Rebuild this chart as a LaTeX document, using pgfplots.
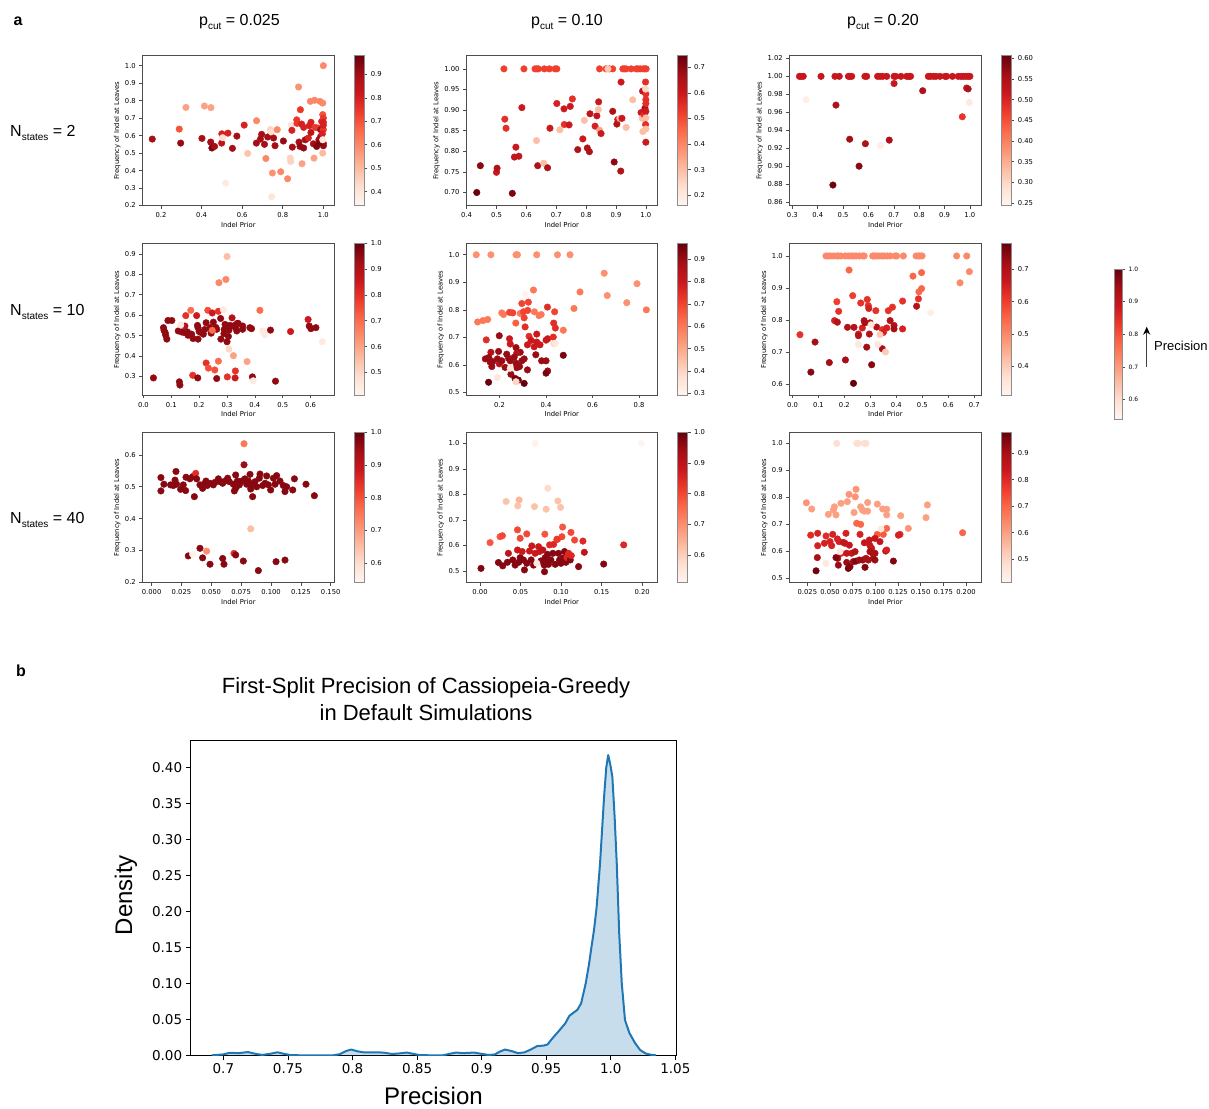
\documentclass[border=0pt]{standalone}
\usepackage{pgfplots}
\pgfplotsset{compat=1.18}
\usepackage{fontspec}
\setmainfont{Liberation Sans}
\newfontfamily\dejavu{DejaVu Sans}
\usetikzlibrary{arrows.meta}
\definecolor{cz}{RGB}{31,119,180}
\newcommand{\tickf}{\dejavu\fontsize{6.8}{8}\selectfont}
\newcommand{\sub}[1]{\raisebox{-4pt}{\fontsize{10}{12}\selectfont #1}}
\pgfplotsset{
  colormap={Reds}{rgb255=(255,245,240) rgb255=(254,224,210) rgb255=(252,187,161) rgb255=(252,146,114) rgb255=(251,106,74) rgb255=(239,59,44) rgb255=(203,24,29) rgb255=(165,15,21) rgb255=(103,0,13)},
  sp/.style={
    anchor=south west, scale only axis, width=192pt,
    axis line style={draw=black!70, line width=0.6pt},
    tick style={draw=black!70, line width=0.6pt},
    tick align=outside, major tick length=3pt,
    xtick pos=left, ytick pos=left,
    ticklabel style={font=\tickf},
    xlabel={Indel Prior}, ylabel={Frequency of Indel at Leaves},
    label style={font=\tickf},
    xlabel style={inner sep=1pt},
    ylabel style={inner sep=1pt},
    colormap name=Reds,
    colorbar,
    colorbar style={at={(parent axis.north east)}, anchor=north west, xshift=11.5pt,
      width=10pt, scale only axis,
      axis line style={draw=black!45, line width=0.6pt},
      tick style={draw=black!70, line width=0.6pt},
      tick align=outside, major tick length=3pt,
      ytick pos=right, yticklabel pos=right,
      yticklabel style={font=\tickf}},
  },
  pts/.style={scatter, only marks, mark=*, mark size=3.3pt, point meta=explicit,
    scatter/use mapped color={draw=mapped color, fill=mapped color}},
}
\begin{document}
\begin{tikzpicture}
\path[use as bounding box] (0,0) rectangle (1209pt,1108pt);
% ---------- titles ----------
\node[font=\bfseries\fontsize{16}{19}\selectfont, anchor=base] at (18pt,1082pt) {a};
\node[font=\bfseries\fontsize{16}{19}\selectfont, anchor=base] at (21pt,431pt) {b};
\node[font=\fontsize{16}{19}\selectfont, anchor=base] at (239.5pt,1082pt) {p\sub{cut} = 0.025};
\node[font=\fontsize{16}{19}\selectfont, anchor=base] at (567pt,1082pt) {p\sub{cut} = 0.10};
\node[font=\fontsize{16}{19}\selectfont, anchor=base] at (883pt,1082pt) {p\sub{cut} = 0.20};
\node[font=\fontsize{16}{19}\selectfont, anchor=base west, inner sep=0pt] at (10pt,971pt) {N\sub{states} = 2};
\node[font=\fontsize{16}{19}\selectfont, anchor=base west, inner sep=0pt] at (10pt,792pt) {N\sub{states} = 10};
\node[font=\fontsize{16}{19}\selectfont, anchor=base west, inner sep=0pt] at (10pt,584pt) {N\sub{states} = 40};
\node[font=\fontsize{22}{26}\selectfont, anchor=base] at (426pt,414pt) {First-Split Precision of Cassiopeia-Greedy};
\node[font=\fontsize{22}{26}\selectfont, anchor=base] at (426pt,387pt) {in Default Simulations};
\draw[black!75, line width=1pt, -{Stealth[length=8pt,width=7pt,black]}] (1146.7pt,741.3pt) -- (1146.7pt,781.3pt);
\node[font=\fontsize{13}{15}\selectfont, anchor=west, inner sep=0pt] at (1154pt,762pt) {Precision};

% ---------- (1,1) ----------
\begin{axis}[sp, at={(142.3pt,902.3pt)}, height=150pt,
  xmin=0.108, xmax=1.054, ymin=0.199, ymax=1.057,
  xtick={0.2,0.4,0.6,0.8,1.0}, xticklabels={0.2,0.4,0.6,0.8,1.0},
  ytick={0.2,0.3,0.4,0.5,0.6,0.7,0.8,0.9,1.0}, yticklabels={0.2,0.3,0.4,0.5,0.6,0.7,0.8,0.9,1.0},
  point meta min=0.34, point meta max=0.98,
  colorbar style={ytick={0.4,0.5,0.6,0.7,0.8,0.9}, yticklabels={0.4,0.5,0.6,0.7,0.8,0.9}}]
\addplot[pts] table[x=x,y=y,meta=c,row sep=\\]{
x y c\\
0.157 0.580 0.90\\ 0.290 0.637 0.70\\ 0.297 0.557 0.92\\ 0.323 0.761 0.55\\
0.402 0.584 0.90\\ 0.414 0.769 0.55\\ 0.446 0.760 0.55\\ 0.445 0.563 0.90\\
0.451 0.529 0.95\\ 0.464 0.538 0.90\\ 0.499 0.557 0.85\\ 0.500 0.610 0.80\\
0.504 0.588 0.42\\ 0.530 0.614 0.80\\ 0.552 0.527 0.90\\ 0.519 0.328 0.38\\
0.574 0.597 0.90\\ 0.610 0.660 0.80\\ 0.627 0.498 0.48\\ 0.671 0.685 0.60\\
0.670 0.557 0.90\\ 0.696 0.607 0.90\\ 0.690 0.580 0.90\\ 0.710 0.550 0.90\\
0.717 0.469 0.60\\ 0.726 0.592 0.90\\ 0.739 0.634 0.45\\ 0.745 0.620 0.42\\
0.749 0.386 0.58\\ 0.745 0.250 0.40\\ 0.762 0.542 0.90\\ 0.755 0.586 0.90\\
0.773 0.634 0.60\\ 0.790 0.393 0.60\\ 0.803 0.569 0.92\\ 0.824 0.353 0.60\\
0.837 0.471 0.45\\ 0.839 0.452 0.45\\ 0.842 0.660 0.40\\ 0.845 0.630 0.80\\
0.847 0.534 0.90\\ 0.869 0.690 0.75\\ 0.870 0.670 0.75\\ 0.878 0.878 0.58\\
0.880 0.563 0.90\\ 0.887 0.748 0.75\\ 0.885 0.538 0.92\\ 0.893 0.666 0.80\\
0.895 0.439 0.55\\ 0.903 0.647 0.80\\ 0.903 0.529 0.92\\ 0.911 0.576 0.90\\
0.926 0.586 0.80\\ 0.931 0.656 0.80\\ 0.936 0.796 0.60\\ 0.939 0.676 0.80\\
0.939 0.618 0.85\\ 0.951 0.553 0.90\\ 0.954 0.471 0.55\\ 0.957 0.802 0.60\\
0.960 0.647 0.75\\ 0.967 0.538 0.95\\ 0.975 0.643 0.75\\ 0.978 0.576 0.90\\
0.983 0.796 0.60\\ 0.987 0.634 0.90\\ 0.992 0.681 0.80\\ 0.987 0.595 0.90\\
0.997 0.786 0.60\\ 1.000 1.000 0.60\\ 0.997 0.500 0.50\\ 0.997 0.720 0.70\\
1.000 0.700 0.75\\ 1.000 0.676 0.80\\ 1.000 0.634 0.75\\ 1.000 0.555 0.90\\
1.000 0.542 0.92\\ 0.983 0.559 0.95\\ 1.000 0.660 0.80\\ 0.995 0.610 0.80\\
0.997 0.576 0.38\\
};
\end{axis}

% ---------- (1,2) ----------
\begin{axis}[sp, at={(466pt,902.3pt)}, width=191.5pt, height=150pt,
  xmin=0.398, xmax=1.039, ymin=0.668, ymax=1.032,
  xtick={0.4,0.5,0.6,0.7,0.8,0.9,1.0}, xticklabels={0.4,0.5,0.6,0.7,0.8,0.9,1.0},
  ytick={0.70,0.75,0.80,0.85,0.90,0.95,1.00}, yticklabels={0.70,0.75,0.80,0.85,0.90,0.95,1.00},
  point meta min=0.16, point meta max=0.745,
  colorbar style={ytick={0.2,0.3,0.4,0.5,0.6,0.7}, yticklabels={0.2,0.3,0.4,0.5,0.6,0.7}}]
\addplot[pts] table[x=x,y=y,meta=c,row sep=\\]{
x y c\\
0.525 1.0 0.52\\ 0.592 1.0 0.52\\ 0.629 1.0 0.52\\ 0.635 1.0 0.52\\ 0.640 1.0 0.52\\
0.660 1.0 0.52\\ 0.677 1.0 0.52\\ 0.696 1.0 0.52\\ 0.702 1.0 0.52\\ 0.845 1.0 0.52\\
0.867 1.0 0.52\\ 0.878 1.0 0.52\\ 0.889 1.0 0.52\\ 0.923 1.0 0.52\\
0.928 1.0 0.52\\ 0.934 1.0 0.52\\ 0.951 1.0 0.52\\ 0.968 1.0 0.52\\ 0.973 1.0 0.52\\
0.981 1.0 0.52\\ 0.990 1.0 0.52\\ 0.996 1.0 0.52\\ 1.001 1.0 0.52\\ 0.873 1.0 0.28\\
0.434 0.700 0.74\\ 0.446 0.765 0.70\\ 0.500 0.749 0.60\\ 0.502 0.759 0.65\\
0.528 0.878 0.55\\ 0.532 0.856 0.55\\ 0.553 0.698 0.72\\ 0.560 0.786 0.62\\
0.565 0.810 0.60\\ 0.575 0.788 0.62\\ 0.585 0.906 0.60\\ 0.634 0.826 0.30\\
0.638 0.765 0.65\\ 0.658 0.771 0.30\\ 0.671 0.760 0.65\\ 0.679 0.856 0.60\\
0.712 0.852 0.30\\ 0.702 0.916 0.58\\ 0.726 0.903 0.60\\ 0.727 0.865 0.55\\
0.743 0.864 0.60\\ 0.747 0.909 0.60\\ 0.754 0.927 0.55\\ 0.772 0.804 0.65\\
0.789 0.830 0.60\\ 0.794 0.875 0.30\\ 0.804 0.808 0.65\\ 0.811 0.799 0.65\\
0.813 0.891 0.62\\ 0.830 0.861 0.58\\ 0.836 0.886 0.62\\ 0.841 0.901 0.30\\
0.842 0.920 0.60\\ 0.845 0.851 0.35\\ 0.850 0.843 0.60\\ 0.889 0.897 0.65\\
0.894 0.774 0.70\\ 0.903 0.866 0.65\\ 0.906 0.877 0.60\\ 0.913 0.880 0.30\\
0.916 0.752 0.65\\ 0.920 0.880 0.60\\ 0.917 0.968 0.60\\ 0.934 0.858 0.30\\
0.956 0.925 0.30\\ 0.989 0.946 0.62\\ 0.984 0.894 0.60\\ 0.988 0.880 0.30\\
0.990 0.848 0.30\\ 0.994 0.889 0.55\\ 0.997 0.905 0.65\\ 0.999 0.968 0.55\\
1.000 0.939 0.55\\ 1.000 0.925 0.55\\ 1.000 0.916 0.55\\
1.000 0.897 0.60\\ 1.000 0.881 0.30\\ 0.999 0.865 0.55\\ 1.000 0.854 0.30\\
1.000 0.822 0.60\\ 0.999 0.951 0.25\\
};
\end{axis}

% ---------- (1,3) ----------
\begin{axis}[sp, at={(789.3pt,902.3pt)}, height=150pt,
  xmin=0.288, xmax=1.045, ymin=0.856, ymax=1.023,
  xtick={0.3,0.4,0.5,0.6,0.7,0.8,0.9,1.0}, xticklabels={0.3,0.4,0.5,0.6,0.7,0.8,0.9,1.0},
  ytick={0.86,0.88,0.90,0.92,0.94,0.96,0.98,1.00,1.02}, yticklabels={0.86,0.88,0.90,0.92,0.94,0.96,0.98,1.00,1.02},
  point meta min=0.244, point meta max=0.606,
  colorbar style={ytick={0.25,0.30,0.35,0.40,0.45,0.50,0.55,0.60}, yticklabels={0.25,0.30,0.35,0.40,0.45,0.50,0.55,0.60}}]
\addplot[pts] table[x=x,y=y,meta=c,row sep=\\]{
x y c\\
0.328 1.0 0.52\\ 0.334 1.0 0.52\\ 0.343 1.0 0.52\\ 0.413 1.0 0.52\\ 0.468 1.0 0.52\\
0.485 1.0 0.52\\ 0.521 1.0 0.52\\ 0.527 1.0 0.52\\ 0.534 1.0 0.52\\ 0.586 1.0 0.52\\
0.593 1.0 0.52\\ 0.636 1.0 0.52\\ 0.646 1.0 0.52\\ 0.656 1.0 0.52\\ 0.672 1.0 0.52\\
0.701 1.0 0.52\\ 0.707 1.0 0.52\\ 0.728 1.0 0.52\\ 0.751 1.0 0.52\\ 0.760 1.0 0.52\\
0.766 1.0 0.52\\ 0.836 1.0 0.52\\ 0.845 1.0 0.52\\ 0.856 1.0 0.52\\ 0.866 1.0 0.52\\
0.882 1.0 0.52\\ 0.902 1.0 0.52\\ 0.908 1.0 0.52\\ 0.931 1.0 0.52\\ 0.954 1.0 0.52\\
0.965 1.0 0.52\\ 0.974 1.0 0.52\\ 0.984 1.0 0.52\\ 0.993 1.0 0.52\\ 1.000 1.0 0.52\\
0.354 0.974 0.26\\ 0.472 0.968 0.55\\ 0.460 0.879 0.60\\ 0.526 0.930 0.56\\
0.563 0.900 0.58\\ 0.588 0.925 0.55\\ 0.647 0.923 0.26\\ 0.682 0.929 0.55\\
0.701 0.992 0.52\\ 0.814 0.984 0.55\\ 0.970 0.955 0.48\\ 0.987 0.987 0.52\\
0.993 0.986 0.55\\ 0.998 0.971 0.27\\
};
\end{axis}

% ---------- (2,1) ----------
\begin{axis}[sp, at={(142.3pt,712.5pt)}, height=152pt,
  xmin=-0.004, xmax=0.685, ymin=0.207, ymax=0.951,
  xtick={0,0.1,0.2,0.3,0.4,0.5,0.6}, xticklabels={0.0,0.1,0.2,0.3,0.4,0.5,0.6},
  ytick={0.3,0.4,0.5,0.6,0.7,0.8,0.9}, yticklabels={0.3,0.4,0.5,0.6,0.7,0.8,0.9},
  point meta min=0.41, point meta max=1.0,
  colorbar style={ytick={0.5,0.6,0.7,0.8,0.9,1.0}, yticklabels={0.5,0.6,0.7,0.8,0.9,1.0}}]
\addplot[pts] table[x=x,y=y,meta=c,row sep=\\]{
x y c\\
0.036 0.293 0.95\\ 0.072 0.539 0.95\\ 0.074 0.526 0.95\\ 0.078 0.515 0.95\\
0.080 0.502 0.95\\ 0.084 0.483 0.95\\ 0.088 0.574 0.95\\ 0.102 0.574 0.95\\
0.129 0.274 0.95\\ 0.131 0.258 0.95\\ 0.125 0.523 0.95\\ 0.137 0.518 0.95\\
0.146 0.515 0.95\\ 0.152 0.598 0.80\\ 0.158 0.518 0.95\\ 0.160 0.502 0.95\\
0.149 0.547 0.90\\ 0.170 0.624 0.70\\ 0.173 0.507 0.95\\ 0.178 0.486 0.95\\
0.177 0.306 0.80\\ 0.191 0.598 0.85\\ 0.194 0.550 0.95\\ 0.196 0.539 0.95\\
0.196 0.483 0.95\\ 0.195 0.293 0.95\\ 0.207 0.515 0.95\\ 0.215 0.507 0.95\\
0.225 0.563 0.95\\ 0.225 0.366 0.80\\ 0.231 0.624 0.75\\ 0.233 0.341 0.75\\
0.239 0.539 0.95\\ 0.243 0.512 0.95\\ 0.247 0.611 0.85\\ 0.251 0.566 0.95\\
0.256 0.332 0.75\\ 0.263 0.290 0.95\\ 0.263 0.531 0.95\\ 0.269 0.619 0.80\\
0.269 0.375 0.70\\ 0.271 0.759 0.65\\ 0.277 0.584 0.95\\ 0.278 0.483 0.95\\
0.287 0.627 0.45\\ 0.289 0.510 0.95\\ 0.293 0.555 0.95\\ 0.296 0.775 0.65\\
0.300 0.887 0.55\\ 0.300 0.470 0.95\\ 0.301 0.298 0.80\\ 0.305 0.496 0.95\\
0.307 0.434 0.50\\ 0.307 0.527 0.95\\ 0.313 0.547 0.95\\ 0.318 0.587 0.90\\
0.323 0.402 0.60\\ 0.327 0.550 0.95\\ 0.329 0.293 0.85\\ 0.330 0.327 0.80\\
0.335 0.523 0.95\\ 0.337 0.560 0.95\\ 0.356 0.531 0.95\\ 0.356 0.547 0.95\\
0.372 0.373 0.60\\ 0.382 0.539 0.95\\ 0.388 0.534 0.95\\ 0.391 0.298 0.95\\
0.394 0.279 0.45\\ 0.418 0.624 0.70\\ 0.428 0.523 0.45\\ 0.436 0.504 0.45\\
0.456 0.527 0.95\\ 0.474 0.277 0.95\\ 0.528 0.520 0.85\\ 0.591 0.579 0.85\\
0.595 0.547 0.95\\ 0.601 0.534 0.95\\ 0.619 0.539 0.95\\ 0.642 0.470 0.45\\
0.200 0.520 0.95\\ 0.220 0.530 0.95\\ 0.260 0.540 0.95\\ 0.290 0.530 0.95\\
0.310 0.550 0.95\\ 0.330 0.540 0.95\\ 0.340 0.560 0.95\\ 0.134 0.552 0.45\\
0.247 0.526 0.70\\
};
\end{axis}

% ---------- (2,2) ----------
\begin{axis}[sp, at={(466pt,712.5pt)}, width=191.5pt, height=152pt,
  xmin=0.056, xmax=0.879, ymin=0.489, ymax=1.041,
  xtick={0.2,0.4,0.6,0.8}, xticklabels={0.2,0.4,0.6,0.8},
  ytick={0.5,0.6,0.7,0.8,0.9,1.0}, yticklabels={0.5,0.6,0.7,0.8,0.9,1.0},
  point meta min=0.29, point meta max=0.97,
  colorbar style={ytick={0.3,0.4,0.5,0.6,0.7,0.8,0.9}, yticklabels={0.3,0.4,0.5,0.6,0.7,0.8,0.9}}]
\addplot[pts] table[x=x,y=y,meta=c,row sep=\\]{
x y c\\
0.100 1.0 0.55\\ 0.163 1.0 0.55\\ 0.271 1.0 0.55\\ 0.277 1.0 0.55\\ 0.360 1.0 0.55\\
0.449 1.0 0.55\\ 0.503 1.0 0.55\\
0.650 0.933 0.55\\ 0.791 0.895 0.55\\ 0.663 0.852 0.55\\ 0.747 0.826 0.55\\
0.831 0.800 0.60\\ 0.546 0.865 0.60\\ 0.346 0.872 0.60\\ 0.311 0.855 0.30\\
0.296 0.823 0.70\\ 0.324 0.828 0.70\\ 0.520 0.805 0.60\\ 0.406 0.810 0.75\\
0.210 0.789 0.60\\ 0.217 0.783 0.60\\ 0.243 0.791 0.70\\ 0.257 0.789 0.70\\
0.289 0.787 0.60\\ 0.303 0.793 0.70\\ 0.321 0.798 0.70\\ 0.350 0.793 0.60\\
0.370 0.779 0.60\\ 0.379 0.783 0.60\\ 0.437 0.793 0.70\\ 0.106 0.756 0.60\\
0.129 0.761 0.60\\ 0.149 0.765 0.60\\ 0.270 0.752 0.65\\ 0.310 0.738 0.75\\
0.306 0.771 0.70\\ 0.433 0.752 0.75\\ 0.440 0.734 0.75\\ 0.474 0.726 0.60\\
0.143 0.691 0.75\\ 0.199 0.706 0.90\\ 0.243 0.695 0.80\\ 0.246 0.676 0.80\\
0.327 0.704 0.75\\ 0.336 0.689 0.80\\ 0.320 0.673 0.80\\ 0.360 0.712 0.80\\
0.360 0.683 0.80\\ 0.374 0.673 0.80\\ 0.400 0.690 0.80\\ 0.407 0.695 0.80\\
0.431 0.701 0.75\\ 0.349 0.666 0.80\\ 0.356 0.637 0.90\\ 0.474 0.635 0.95\\
0.271 0.663 0.90\\ 0.289 0.646 0.90\\ 0.274 0.643 0.85\\ 0.139 0.622 0.90\\
0.163 0.646 0.85\\ 0.154 0.627 0.90\\ 0.171 0.612 0.90\\ 0.196 0.649 0.90\\
0.191 0.622 0.90\\ 0.199 0.604 0.85\\ 0.210 0.615 0.90\\ 0.231 0.639 0.90\\
0.239 0.624 0.90\\ 0.246 0.615 0.90\\ 0.263 0.628 0.90\\ 0.271 0.606 0.90\\
0.274 0.590 0.90\\ 0.286 0.594 0.90\\ 0.296 0.615 0.90\\ 0.306 0.622 0.90\\
0.320 0.582 0.90\\ 0.381 0.615 0.90\\ 0.400 0.615 0.90\\ 0.407 0.578 0.90\\
0.400 0.570 0.95\\ 0.160 0.610 0.90\\ 0.167 0.594 0.90\\ 0.153 0.537 0.97\\
0.249 0.566 0.90\\ 0.267 0.551 0.95\\ 0.281 0.545 0.95\\ 0.306 0.533 0.97\\
0.224 0.591 0.90\\ 0.434 0.677 0.40\\ 0.439 0.679 0.35\\ 0.191 0.554 0.35\\
0.246 0.588 0.35\\ 0.271 0.539 0.40\\
};
\end{axis}

% ---------- (2,3) ----------
\begin{axis}[sp, at={(789.3pt,712.5pt)}, height=152pt,
  xmin=-0.012, xmax=0.727, ymin=0.564, ymax=1.039,
  xtick={0,0.1,0.2,0.3,0.4,0.5,0.6,0.7}, xticklabels={0.0,0.1,0.2,0.3,0.4,0.5,0.6,0.7},
  ytick={0.6,0.7,0.8,0.9,1.0}, yticklabels={0.6,0.7,0.8,0.9,1.0},
  point meta min=0.31, point meta max=0.78,
  colorbar style={ytick={0.4,0.5,0.6,0.7}, yticklabels={0.4,0.5,0.6,0.7}}]
\addplot[pts] table[x=x,y=y,meta=c,row sep=\\]{
x y c\\
0.129 1.0 0.50\\ 0.138 1.0 0.50\\ 0.147 1.0 0.50\\ 0.158 1.0 0.50\\ 0.171 1.0 0.50\\
0.178 1.0 0.50\\ 0.187 1.0 0.50\\ 0.203 1.0 0.50\\ 0.215 1.0 0.50\\ 0.226 1.0 0.50\\
0.235 1.0 0.50\\ 0.245 1.0 0.50\\ 0.258 1.0 0.50\\ 0.271 1.0 0.50\\ 0.276 1.0 0.50\\
0.309 1.0 0.50\\ 0.315 1.0 0.50\\ 0.324 1.0 0.50\\ 0.335 1.0 0.50\\ 0.344 1.0 0.50\\
0.353 1.0 0.50\\ 0.365 1.0 0.50\\ 0.376 1.0 0.50\\ 0.395 1.0 0.50\\ 0.401 1.0 0.50\\
0.427 1.0 0.50\\ 0.476 1.0 0.50\\ 0.485 1.0 0.50\\ 0.491 1.0 0.50\\ 0.499 1.0 0.50\\
0.632 1.0 0.50\\ 0.671 1.0 0.50\\
0.029 0.754 0.62\\ 0.071 0.637 0.75\\ 0.087 0.731 0.72\\ 0.142 0.667 0.72\\
0.204 0.675 0.72\\ 0.235 0.602 0.78\\ 0.218 0.956 0.55\\ 0.232 0.876 0.60\\
0.171 0.857 0.60\\ 0.178 0.827 0.62\\ 0.162 0.798 0.65\\ 0.173 0.793 0.70\\
0.212 0.777 0.70\\ 0.237 0.777 0.70\\ 0.254 0.756 0.65\\ 0.254 0.751 0.70\\
0.263 0.853 0.62\\ 0.269 0.775 0.65\\ 0.276 0.798 0.70\\ 0.279 0.791 0.72\\
0.286 0.715 0.72\\ 0.288 0.864 0.62\\ 0.292 0.845 0.62\\ 0.296 0.756 0.70\\
0.299 0.791 0.70\\ 0.294 0.836 0.65\\ 0.305 0.660 0.75\\ 0.321 0.829 0.62\\
0.324 0.778 0.70\\ 0.346 0.770 0.62\\ 0.346 0.710 0.72\\ 0.350 0.761 0.65\\
0.363 0.775 0.65\\ 0.369 0.829 0.62\\ 0.376 0.798 0.70\\ 0.385 0.840 0.62\\
0.391 0.783 0.70\\ 0.391 0.772 0.72\\ 0.424 0.859 0.62\\ 0.424 0.772 0.65\\
0.464 0.937 0.55\\ 0.478 0.843 0.70\\ 0.485 0.866 0.62\\ 0.487 0.888 0.55\\
0.497 0.898 0.55\\ 0.497 0.948 0.55\\ 0.645 0.916 0.50\\ 0.681 0.951 0.50\\
0.254 0.723 0.35\\ 0.303 0.785 0.35\\ 0.328 0.723 0.35\\ 0.337 0.754 0.40\\
0.358 0.700 0.40\\ 0.532 0.823 0.33\\
};
\end{axis}

% ---------- (3,1) ----------
\begin{axis}[sp, at={(142.3pt,525.3pt)}, height=150.4pt,
  xmin=-0.0078, xmax=0.153, ymin=0.199, ymax=0.671,
  xtick={0,0.025,0.05,0.075,0.1,0.125,0.15}, xticklabels={0.000,0.025,0.050,0.075,0.100,0.125,0.150},
  ytick={0.2,0.3,0.4,0.5,0.6}, yticklabels={0.2,0.3,0.4,0.5,0.6},
  point meta min=0.54, point meta max=1.0,
  colorbar style={ytick={0.6,0.7,0.8,0.9,1.0}, yticklabels={0.6,0.7,0.8,0.9,1.0}}]
\addplot[pts] table[x=x,y=y,meta=c,row sep=\\]{
x y c\\
0.0078 0.529 0.97\\ 0.0078 0.487 0.97\\ 0.0103 0.508 0.97\\ 0.0159 0.506 0.97\\
0.0182 0.504 0.97\\ 0.0196 0.521 0.97\\ 0.0204 0.548 0.97\\ 0.0209 0.508 0.97\\
0.0243 0.492 0.97\\ 0.0265 0.506 0.97\\ 0.0285 0.488 0.97\\ 0.0288 0.530 0.97\\
0.0321 0.525 0.97\\ 0.0344 0.532 0.97\\ 0.0358 0.469 0.97\\ 0.0369 0.542 0.85\\
0.0377 0.525 0.97\\ 0.0405 0.506 0.97\\ 0.0427 0.495 0.97\\ 0.0439 0.508 0.97\\
0.0455 0.518 0.97\\ 0.0466 0.504 0.97\\ 0.0489 0.511 0.97\\ 0.0517 0.506 0.97\\
0.0531 0.514 0.97\\ 0.0559 0.525 0.97\\ 0.0573 0.516 0.97\\ 0.0595 0.511 0.97\\
0.0615 0.518 0.97\\ 0.0637 0.527 0.97\\ 0.0651 0.516 0.97\\ 0.0684 0.508 0.97\\
0.0693 0.487 0.97\\ 0.0704 0.537 0.97\\ 0.0707 0.497 0.97\\ 0.0718 0.518 0.97\\
0.0735 0.506 0.97\\ 0.0754 0.518 0.97\\ 0.0774 0.569 0.95\\ 0.0782 0.525 0.97\\
0.0796 0.508 0.97\\ 0.0810 0.518 0.97\\ 0.0824 0.539 0.97\\ 0.0830 0.493 0.97\\
0.0838 0.508 0.97\\ 0.0846 0.469 0.97\\ 0.0866 0.516 0.97\\ 0.0880 0.500 0.97\\
0.0902 0.527 0.97\\ 0.0908 0.540 0.97\\ 0.0930 0.504 0.97\\ 0.0950 0.511 0.97\\
0.0964 0.534 0.97\\ 0.0978 0.506 0.97\\ 0.0997 0.490 0.97\\ 0.1020 0.527 0.97\\
0.1034 0.508 0.97\\ 0.1047 0.535 0.97\\ 0.1075 0.518 0.97\\ 0.1103 0.504 0.97\\
0.1117 0.485 0.97\\ 0.1131 0.500 0.97\\ 0.1182 0.490 0.97\\ 0.1196 0.525 0.97\\
0.1293 0.508 0.97\\ 0.1363 0.472 0.97\\
0.0307 0.283 0.97\\ 0.0344 0.288 0.55\\ 0.0405 0.307 0.97\\ 0.0427 0.277 0.97\\
0.0461 0.298 0.72\\ 0.0489 0.257 0.97\\ 0.0595 0.275 0.97\\ 0.0606 0.257 0.97\\
0.0690 0.291 0.85\\ 0.0704 0.286 0.97\\ 0.0768 0.267 0.97\\ 0.0894 0.237 0.97\\
0.1042 0.265 0.97\\ 0.1117 0.270 0.97\\ 0.0830 0.368 0.65\\ 0.0774 0.635 0.75\\
};
\end{axis}

% ---------- (3,2) ----------
\begin{axis}[sp, at={(466pt,525.3pt)}, width=191.5pt, height=150.4pt,
  xmin=-0.0173, xmax=0.219, ymin=0.454, ymax=1.043,
  xtick={0,0.05,0.1,0.15,0.2}, xticklabels={0.00,0.05,0.10,0.15,0.20},
  ytick={0.5,0.6,0.7,0.8,0.9,1.0}, yticklabels={0.5,0.6,0.7,0.8,0.9,1.0},
  point meta min=0.51, point meta max=1.0,
  colorbar style={ytick={0.6,0.7,0.8,0.9,1.0}, yticklabels={0.6,0.7,0.8,0.9,1.0}}]
\addplot[pts] table[x=x,y=y,meta=c,row sep=\\]{
x y c\\
0.0680 1.000 0.52\\ 0.1990 1.000 0.51\\ 0.0837 0.824 0.58\\ 0.0322 0.772 0.62\\
0.0482 0.778 0.64\\ 0.0466 0.755 0.62\\ 0.0672 0.752 0.62\\ 0.0816 0.742 0.62\\
0.0961 0.774 0.62\\ 0.0994 0.749 0.62\\
0.0124 0.611 0.78\\ 0.0247 0.634 0.78\\ 0.0276 0.638 0.80\\ 0.0462 0.661 0.80\\
0.0495 0.628 0.80\\ 0.0577 0.645 0.80\\ 0.0800 0.644 0.78\\ 0.1019 0.672 0.78\\
0.1010 0.634 0.80\\ 0.1122 0.651 0.80\\ 0.1167 0.621 0.80\\ 0.1270 0.617 0.85\\
0.1773 0.602 0.85\\ 0.0957 0.624 0.80\\
0.0012 0.510 0.98\\ 0.0227 0.533 0.97\\ 0.0280 0.520 0.97\\ 0.0350 0.569 0.90\\
0.0338 0.534 0.97\\ 0.0404 0.543 0.97\\ 0.0433 0.523 0.97\\ 0.0462 0.582 0.88\\
0.0478 0.534 0.97\\ 0.0495 0.552 0.97\\ 0.0520 0.576 0.88\\ 0.0536 0.543 0.97\\
0.0548 0.504 0.97\\ 0.0577 0.530 0.97\\ 0.0610 0.578 0.88\\ 0.0631 0.543 0.97\\
0.0639 0.598 0.88\\ 0.0660 0.523 0.97\\ 0.0680 0.569 0.88\\ 0.0722 0.595 0.88\\
0.0734 0.576 0.88\\ 0.0751 0.539 0.97\\ 0.0775 0.582 0.90\\ 0.0792 0.523 0.97\\
0.0796 0.497 0.97\\ 0.0804 0.552 0.97\\ 0.0816 0.534 0.97\\ 0.0833 0.565 0.97\\
0.0845 0.526 0.97\\ 0.0858 0.602 0.85\\ 0.0874 0.543 0.97\\ 0.0899 0.569 0.97\\
0.0907 0.604 0.85\\ 0.0928 0.526 0.97\\ 0.0948 0.624 0.82\\ 0.0969 0.569 0.97\\
0.0981 0.543 0.97\\ 0.0998 0.530 0.97\\ 0.1023 0.550 0.97\\ 0.1043 0.576 0.97\\
0.1060 0.534 0.97\\ 0.1072 0.552 0.85\\ 0.1093 0.569 0.85\\ 0.1113 0.543 0.97\\
0.1126 0.560 0.85\\ 0.1216 0.517 0.97\\ 0.1287 0.573 0.90\\ 0.1526 0.527 0.97\\
0.0701 0.530 0.55\\
};
\end{axis}

% ---------- (3,3) ----------
\begin{axis}[sp, at={(789.3pt,525.3pt)}, height=150.4pt,
  xmin=0.0051, xmax=0.2169, ymin=0.484, ymax=1.041,
  xtick={0.025,0.05,0.075,0.1,0.125,0.15,0.175,0.2}, xticklabels={0.025,0.050,0.075,0.100,0.125,0.150,0.175,0.200},
  ytick={0.5,0.6,0.7,0.8,0.9,1.0}, yticklabels={0.5,0.6,0.7,0.8,0.9,1.0},
  point meta min=0.41, point meta max=0.98,
  colorbar style={ytick={0.5,0.6,0.7,0.8,0.9}, yticklabels={0.5,0.6,0.7,0.8,0.9}}]
\addplot[pts] table[x=x,y=y,meta=c,row sep=\\]{
x y c\\
0.0574 1.0 0.48\\ 0.0794 1.0 0.48\\ 0.0812 1.0 0.48\\ 0.0879 1.0 0.48\\ 0.0897 1.0 0.48\\
0.0787 0.830 0.62\\ 0.0710 0.811 0.62\\ 0.0779 0.802 0.62\\ 0.0239 0.780 0.62\\
0.0298 0.757 0.60\\ 0.0482 0.737 0.60\\ 0.0537 0.753 0.60\\ 0.0548 0.765 0.60\\
0.0566 0.735 0.60\\ 0.0621 0.778 0.60\\ 0.0691 0.784 0.60\\ 0.0765 0.744 0.60\\
0.0838 0.765 0.60\\ 0.0857 0.753 0.60\\ 0.0879 0.749 0.60\\ 0.0915 0.781 0.60\\
0.0915 0.749 0.60\\ 0.1022 0.775 0.60\\ 0.1081 0.757 0.60\\ 0.1125 0.735 0.60\\
0.1125 0.756 0.60\\ 0.1280 0.732 0.60\\ 0.1364 0.685 0.62\\ 0.1559 0.725 0.60\\
0.1574 0.772 0.60\\ 0.1963 0.669 0.70\\ 0.0794 0.704 0.70\\ 0.0838 0.700 0.70\\
0.1125 0.685 0.70\\ 0.1022 0.663 0.72\\ 0.1088 0.663 0.72\\
0.1272 0.663 0.80\\ 0.0287 0.660 0.80\\ 0.0364 0.667 0.82\\ 0.0456 0.657 0.80\\
0.0530 0.663 0.82\\ 0.0676 0.667 0.82\\ 0.0831 0.663 0.82\\ 0.0364 0.621 0.82\\
0.0438 0.630 0.82\\ 0.0500 0.636 0.82\\ 0.0518 0.621 0.82\\ 0.0581 0.646 0.82\\
0.0600 0.636 0.82\\ 0.0621 0.593 0.82\\ 0.0647 0.633 0.85\\ 0.0665 0.630 0.85\\
0.0684 0.593 0.85\\ 0.0713 0.623 0.85\\ 0.0739 0.593 0.85\\ 0.0879 0.632 0.85\\
0.0934 0.642 0.85\\ 0.0941 0.621 0.85\\ 0.0959 0.611 0.85\\ 0.0970 0.593 0.85\\
0.0996 0.648 0.85\\ 0.1051 0.636 0.85\\ 0.1114 0.601 0.85\\ 0.1125 0.605 0.82\\
0.1254 0.660 0.82\\ 0.0776 0.599 0.88\\
0.0360 0.577 0.90\\ 0.0585 0.574 0.90\\ 0.0346 0.528 0.97\\ 0.0566 0.577 0.95\\
0.0592 0.549 0.92\\ 0.0684 0.559 0.92\\ 0.0702 0.537 0.97\\ 0.0720 0.543 0.95\\
0.0757 0.562 0.92\\ 0.0787 0.564 0.95\\ 0.0824 0.568 0.92\\ 0.0860 0.568 0.92\\
0.0886 0.541 0.95\\ 0.0897 0.574 0.90\\ 0.0923 0.568 0.90\\ 0.0941 0.599 0.90\\
0.0978 0.574 0.90\\ 0.0996 0.593 0.90\\ 0.0996 0.568 0.92\\ 0.1199 0.564 0.95\\
0.1062 0.683 0.45\\ 0.0610 0.599 0.45\\ 0.0456 0.556 0.45\\
};
\end{axis}

% ---------- standalone colorbar ----------
\begin{axis}[anchor=south west, at={(1106pt,688.7pt)}, scale only axis, width=8pt, height=150.3pt,
  axis line style={draw=none}, xtick=\empty, ytick=\empty, xmin=0, xmax=1, ymin=0, ymax=1,
  colormap name=Reds, point meta min=0.54, point meta max=1.0,
  colorbar, colorbar style={at={(parent axis.south west)}, anchor=south west, width=8pt, scale only axis,
    axis line style={draw=black!45, line width=0.6pt}, tick style={draw=black!70, line width=0.6pt},
    tick align=outside, major tick length=2.5pt, ytick pos=right, yticklabel pos=right,
    yticklabel style={font=\dejavu\fontsize{6}{7}\selectfont},
    ytick={0.6,0.7,0.8,0.9,1.0}, yticklabels={0.6,0.7,0.8,0.9,1.0}}]
\addplot[draw=none, mark=none, point meta=explicit] coordinates {(0,0)[0.6] (1,1)[0.9]};
\end{axis}

% ---------- panel b ----------
\begin{axis}[anchor=south west, at={(190.7pt,52.7pt)}, scale only axis, width=485.3pt, height=315.3pt,
  xmin=0.6747, xmax=1.0505, ymin=0, ymax=0.438,
  xtick={0.7,0.75,0.8,0.85,0.9,0.95,1.0,1.05}, xticklabels={0.7,0.75,0.8,0.85,0.9,0.95,1.0,1.05},
  ytick={0,0.05,0.1,0.15,0.2,0.25,0.3,0.35,0.4}, yticklabels={0.00,0.05,0.10,0.15,0.20,0.25,0.30,0.35,0.40},
  tick align=outside, major tick length=5pt, xtick pos=left, ytick pos=left,
  axis line style={line width=0.8pt}, tick style={line width=0.8pt, black},
  ticklabel style={font=\dejavu\fontsize{13.5}{15}\selectfont},
  xlabel={Precision}, ylabel={Density},
  label style={font=\fontsize{24}{28}\selectfont},
  xlabel style={at={(axis description cs:0.5,-0.128)}, anchor=center, inner sep=0pt},
  ylabel style={at={(axis description cs:-0.1333,0.508)}, anchor=center}]
\addplot[draw=none, fill=cz, fill opacity=0.25] coordinates {
(0.691,0) (0.700,0.0012) (0.705,0.0035) (0.712,0.003) (0.719,0.0045) (0.725,0.002) (0.730,0.0005)
(0.736,0.002) (0.742,0.0042) (0.747,0.002) (0.752,0.0003) (0.760,0) (0.785,0) (0.790,0.0015)
(0.795,0.006) (0.799,0.008) (0.804,0.0055) (0.809,0.004) (0.816,0.0042) (0.824,0.0038) (0.830,0.002)
(0.834,0.0022) (0.842,0.0038) (0.847,0.002) (0.852,0.0003) (0.860,0) (0.870,0) (0.875,0.002)
(0.880,0.0038) (0.886,0.003) (0.894,0.0038) (0.900,0.002) (0.905,0.0005) (0.910,0.001) (0.914,0.005)
(0.918,0.008) (0.923,0.006) (0.928,0.003) (0.933,0.004) (0.938,0.008) (0.943,0.0128) (0.948,0.0135)
(0.951,0.015) (0.955,0.024) (0.9594,0.033) (0.9646,0.044) (0.968,0.055) (0.971,0.059) (0.974,0.063)
(0.977,0.072) (0.9806,0.100) (0.983,0.125) (0.985,0.150) (0.987,0.174) (0.989,0.205) (0.9917,0.267)
(0.9948,0.359) (0.9965,0.400) (0.998,0.417) (0.9995,0.405) (1.0012,0.387) (1.003,0.33) (1.0046,0.267)
(1.0065,0.17) (1.0085,0.100) (1.011,0.049) (1.0144,0.031) (1.0188,0.017) (1.0227,0.0074) (1.027,0.0025)
(1.031,0.0008) (1.035,0)} \closedcycle;
\addplot[cz, line width=2pt, line join=round] coordinates {
(0.691,0) (0.700,0.0012) (0.705,0.0035) (0.712,0.003) (0.719,0.0045) (0.725,0.002) (0.730,0.0005)
(0.736,0.002) (0.742,0.0042) (0.747,0.002) (0.752,0.0003) (0.760,0) (0.785,0) (0.790,0.0015)
(0.795,0.006) (0.799,0.008) (0.804,0.0055) (0.809,0.004) (0.816,0.0042) (0.824,0.0038) (0.830,0.002)
(0.834,0.0022) (0.842,0.0038) (0.847,0.002) (0.852,0.0003) (0.860,0) (0.870,0) (0.875,0.002)
(0.880,0.0038) (0.886,0.003) (0.894,0.0038) (0.900,0.002) (0.905,0.0005) (0.910,0.001) (0.914,0.005)
(0.918,0.008) (0.923,0.006) (0.928,0.003) (0.933,0.004) (0.938,0.008) (0.943,0.0128) (0.948,0.0135)
(0.951,0.015) (0.955,0.024) (0.9594,0.033) (0.9646,0.044) (0.968,0.055) (0.971,0.059) (0.974,0.063)
(0.977,0.072) (0.9806,0.100) (0.983,0.125) (0.985,0.150) (0.987,0.174) (0.989,0.205) (0.9917,0.267)
(0.9948,0.359) (0.9965,0.400) (0.998,0.417) (0.9995,0.405) (1.0012,0.387) (1.003,0.33) (1.0046,0.267)
(1.0065,0.17) (1.0085,0.100) (1.011,0.049) (1.0144,0.031) (1.0188,0.017) (1.0227,0.0074) (1.027,0.0025)
(1.031,0.0008) (1.035,0)};
\end{axis}
\end{tikzpicture}
\end{document}
